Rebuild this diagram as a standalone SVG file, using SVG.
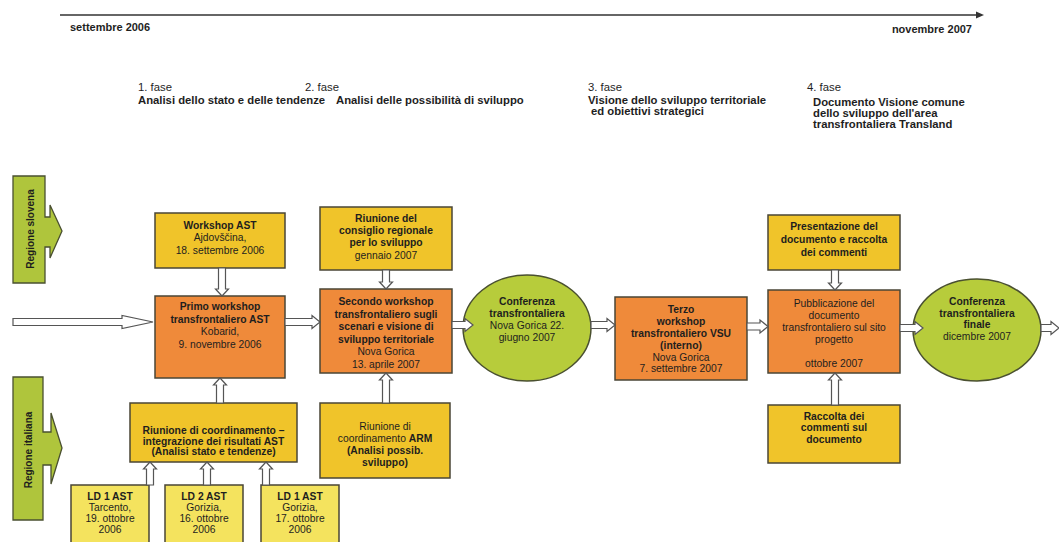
<svg xmlns="http://www.w3.org/2000/svg" width="1059" height="542" viewBox="0 0 1059 542">
<style>
text{font-family:"Liberation Sans",Arial,sans-serif;fill:#1e1e1e}
.t{font-size:10.3px;text-anchor:middle}
.b{font-weight:bold}
.ph{font-size:11.3px}
.box{stroke:#4a4636;stroke-width:1.5}
.yel{fill:#F0C42A}
.ld{fill:#F4E35E}
.org{fill:#EF8A3A}
.grn{fill:#B7CC3B;stroke:#4a5030;stroke-width:1.5}
.side{fill:#AFC53C;stroke:#4a5030;stroke-width:1.3}
.arr{fill:#fff;stroke:#555;stroke-width:1.2;stroke-linejoin:miter}
</style>

<g id="timeline">
<line x1="60" y1="15" x2="977" y2="15" stroke="#333" stroke-width="1.3"/>
<polygon points="976,11.5 984,15 976,18.5" fill="#333"/>
<text x="70" y="31" class="b" style="font-size:11px">settembre 2006</text>
<text x="972" y="33" class="b" style="font-size:11px" text-anchor="end">novembre 2007</text>
</g>

<g id="phases">
<text x="138" y="91" class="ph">1. fase</text>
<text x="138" y="104" class="ph b">Analisi dello stato e delle tendenze</text>
<text x="305" y="91" class="ph">2. fase</text>
<text x="336" y="104" class="ph b">Analisi delle possibilità di sviluppo</text>
<text x="588" y="91" class="ph">3. fase</text>
<text x="588" y="104" class="ph b">Visione dello sviluppo territoriale</text>
<text x="591" y="115" class="ph b">ed obiettivi strategici</text>
<text x="807" y="91" class="ph">4. fase</text>
<text x="813" y="105.5" class="ph b">Documento Visione comune</text>
<text x="813" y="116.5" class="ph b">dello sviluppo dell'area</text>
<text x="813" y="127.5" class="ph b">transfrontaliera Transland</text>
</g>

<g id="regione-slovena">
<path class="side" d="M13,176 H45 V217 H50 V205 L62,231 L50,258 V247 H45 V283 H13 Z"/>
<text class="b" style="font-size:10px" text-anchor="middle" transform="translate(33.5,229) rotate(-90)">Regione slovena</text>
</g>

<g id="regione-italiana">
<path class="side" d="M13,377 H43 V432 H51 V413 L62,448 L51,484 V465 H43 V520 H13 Z"/>
<text class="b" style="font-size:10px" text-anchor="middle" transform="translate(32,450) rotate(-90)">Regione italiana</text>
</g>

<g id="workshop-ast">
<rect class="box yel" x="155" y="213" width="130" height="55"/>
<text class="t b" x="220" y="228.5">Workshop AST</text>
<text class="t" x="220" y="241">Ajdovščina,</text>
<text class="t" x="220" y="253.5">18. settembre 2006</text>
</g>

<g id="primo-workshop">
<rect class="box org" x="155" y="296" width="130" height="82"/>
<text class="t b" x="220" y="310">Primo workshop</text>
<text class="t b" x="220" y="322.5">transfrontaliero AST</text>
<text class="t" x="220" y="335">Kobarid,</text>
<text class="t" x="220" y="347.5">9. novembre 2006</text>
</g>

<g id="riunione-ast">
<rect class="box yel" x="130" y="403" width="167" height="59"/>
<text class="t b" x="213.5" y="434">Riunione di coordinamento –</text>
<text class="t b" x="213.5" y="444.5">integrazione dei risultati AST</text>
<text class="t b" x="213.5" y="455">(Analisi stato e tendenze)</text>
</g>

<g id="ld1">
<rect class="box ld" x="71" y="485" width="78" height="62"/>
<text class="t b" x="110" y="500">LD 1 AST</text>
<text class="t" x="110" y="511">Tarcento,</text>
<text class="t" x="110" y="522">19. ottobre</text>
<text class="t" x="110" y="533">2006</text>
</g>

<g id="ld2">
<rect class="box ld" x="165" y="485" width="78" height="62"/>
<text class="t b" x="204" y="500">LD 2 AST</text>
<text class="t" x="204" y="511">Gorizia,</text>
<text class="t" x="204" y="522">16. ottobre</text>
<text class="t" x="204" y="533">2006</text>
</g>

<g id="ld3">
<rect class="box ld" x="261" y="485" width="78" height="62"/>
<text class="t b" x="300" y="500">LD 1 AST</text>
<text class="t" x="300" y="511">Gorizia,</text>
<text class="t" x="300" y="522">17. ottobre</text>
<text class="t" x="300" y="533">2006</text>
</g>

<g id="riunione-consiglio">
<rect class="box yel" x="320" y="207" width="132" height="63"/>
<text class="t b" x="386" y="222">Riunione del</text>
<text class="t b" x="386" y="234">consiglio regionale</text>
<text class="t b" x="386" y="246">per lo sviluppo</text>
<text class="t" x="386" y="258.5">gennaio 2007</text>
</g>

<g id="secondo-workshop">
<rect class="box org" x="320" y="289" width="132" height="84"/>
<text class="t b" x="386" y="305">Secondo workshop</text>
<text class="t b" x="386" y="317.5">transfrontaliero sugli</text>
<text class="t b" x="386" y="330">scenari e visione di</text>
<text class="t b" x="386" y="342.5">sviluppo territoriale</text>
<text class="t" x="386" y="355">Nova Gorica</text>
<text class="t" x="386" y="367.5">13. aprile 2007</text>
</g>

<g id="riunione-arm">
<rect class="box yel" x="320" y="403" width="130" height="75"/>
<text class="t" x="385" y="430">Riunione di</text>
<text class="t" x="385" y="442">coordinamento  <tspan class="b">ARM</tspan></text>
<text class="t b" x="385" y="454">(Analisi possib.</text>
<text class="t b" x="385" y="466">sviluppo)</text>
</g>

<g id="conferenza-1">
<ellipse class="grn" cx="527" cy="328" rx="64" ry="53"/>
<text class="t b" x="527" y="305">Conferenza</text>
<text class="t b" x="527" y="317">transfrontaliera</text>
<text class="t" x="527" y="329">Nova Gorica 22.</text>
<text class="t" x="527" y="341">giugno 2007</text>
</g>

<g id="terzo-workshop">
<rect class="box org" x="615" y="297" width="132" height="83"/>
<text class="t b" x="681" y="312.5">Terzo</text>
<text class="t b" x="681" y="324.5">workshop</text>
<text class="t b" x="681" y="336.5">transfrontaliero VSU</text>
<text class="t b" x="681" y="348.5">(interno)</text>
<text class="t" x="681" y="360.5">Nova Gorica</text>
<text class="t" x="681" y="372">7. settembre 2007</text>
</g>

<g id="presentazione">
<rect class="box yel" x="768" y="215" width="132" height="55"/>
<text class="t b" x="834" y="230">Presentazione del</text>
<text class="t b" x="834" y="243">documento e raccolta</text>
<text class="t b" x="834" y="256">dei commenti</text>
</g>

<g id="pubblicazione">
<rect class="box org" x="768" y="290" width="132" height="83"/>
<text class="t" x="834" y="306.5">Pubblicazione del</text>
<text class="t" x="834" y="318.5">documento</text>
<text class="t" x="834" y="330.5">transfrontaliero sul sito</text>
<text class="t" x="834" y="342.5">progetto</text>
<text class="t" x="834" y="367">ottobre 2007</text>
</g>

<g id="raccolta">
<rect class="box yel" x="768" y="405" width="132" height="58"/>
<text class="t b" x="834" y="419.5">Raccolta dei</text>
<text class="t b" x="834" y="431">commenti sul</text>
<text class="t b" x="834" y="442.5">documento</text>
</g>

<g id="conferenza-finale">
<ellipse class="grn" cx="977" cy="330" rx="64" ry="51"/>
<text class="t b" x="977" y="304.5">Conferenza</text>
<text class="t b" x="977" y="316.5">transfrontaliera</text>
<text class="t b" x="977" y="328">finale</text>
<text class="t" x="977" y="340">dicembre 2007</text>
</g>

<g id="connectors">
<path class="arr" d="M13,318.5 H122 V315.5 L153,322 L122,328.5 V325.5 H13 Z"/>
<path class="arr" d="M285,318.5 H312 V315.5 L320,322 L312,328.5 V325.5 H285 Z"/>
<path class="arr" d="M452,321.5 H465 V318.5 L473,325 L465,331.5 V328.5 H452 Z"/>
<path class="arr" d="M591,321.5 H607 V318.5 L615,325 L607,331.5 V328.5 H591 Z"/>
<path class="arr" d="M747,323 H760 V320 L768,326.5 L760,333 V330 H747 Z"/>
<path class="arr" d="M900,324.5 H915 V321.5 L923,328 L915,334.5 V331.5 H900 Z"/>
<path class="arr" d="M1041,324.5 H1051 V321.5 L1059,328 L1051,334.5 V331.5 H1041 Z"/>
<path class="arr" d="M218.5,268 V289 H215.5 L222,296 L228.5,289 H225.5 V268 Z"/>
<path class="arr" d="M382.5,270 V282 H379.5 L386,289 L392.5,282 H389.5 V270 Z"/>
<path class="arr" d="M831.5,270 V283 H828.5 L835,290 L841.5,283 H838.5 V270 Z"/>
<path class="arr" d="M216.5,403 V385 H213.5 L220,378 L226.5,385 H223.5 V403 Z"/>
<path class="arr" d="M382.5,403 V380 H379.5 L386,373 L392.5,380 H389.5 V403 Z"/>
<path class="arr" d="M831.5,405 V380 H828.5 L835,373 L841.5,380 H838.5 V405 Z"/>
<path class="arr" d="M146.5,485 V469 H143.5 L150,462 L156.5,469 H153.5 V485 Z"/>
<path class="arr" d="M203.5,485 V469 H200.5 L207,462 L213.5,469 H210.5 V485 Z"/>
<path class="arr" d="M262.5,485 V469 H259.5 L266,462 L272.5,469 H269.5 V485 Z"/>
</g>
</svg>
